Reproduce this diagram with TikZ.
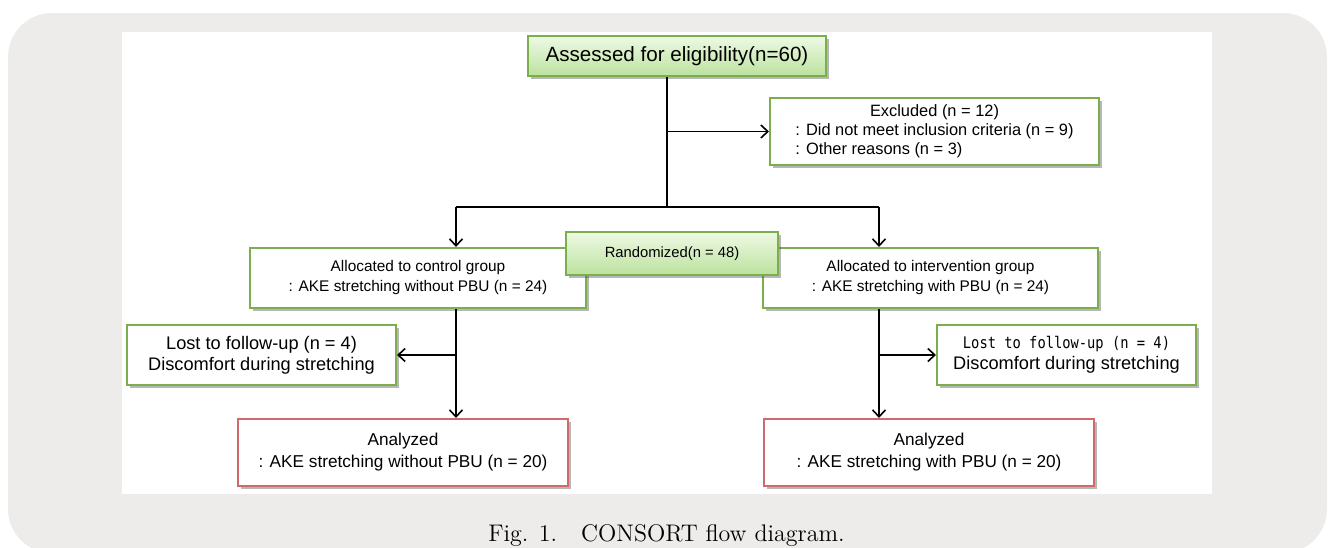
\documentclass[tikz,border=0pt]{standalone}
\usepackage{fontspec}
\newfontfamily\boxfont{Liberation Sans}
\newfontfamily\boxmono[FakeStretch=0.86]{DejaVu Sans Mono}
\usetikzlibrary{positioning,arrows.meta,shadows}

\definecolor{pagegray}{HTML}{EDECEA}
\definecolor{boxgreen}{HTML}{7AAF4C}
\definecolor{boxred}{HTML}{D06A6A}
\definecolor{greentop}{HTML}{EEF9E4}
\definecolor{greenbot}{HTML}{BCE29E}

\tikzset{
  flowbox/.style={draw=boxgreen, line width=1pt, fill=white, inner sep=0pt, align=center,
    drop shadow={shadow xshift=1.3pt, shadow yshift=-1.3pt, opacity=0.4, fill=black!70}},
  greenbox/.style={flowbox, top color=greentop, bottom color=greenbot},
  redbox/.style={flowbox, draw=boxred},
  flowline/.style={line width=0.8pt, black},
}

\begin{document}
\begin{tikzpicture}[x=0.5pt, y=-0.5pt, >={Straight Barb[length=3.5pt,width=6.5pt]}]
\useasboundingbox (0,0) rectangle (1329,547);
% page background
\fill[pagegray, rounded corners=22pt] (8,13) rectangle (1327,553);
\fill[white] (122,32) rectangle (1212,494);

% boxes
\node[greenbox, minimum width=149pt, minimum height=20pt,
  font=\boxfont\fontsize{10.3}{12}\selectfont] (assess) at (677,56) {Assessed for eligibility(n=60)};
\node[flowbox, minimum width=164.5pt, minimum height=33.5pt,
  font=\boxfont\fontsize{8.2}{9.5}\selectfont] (excluded) at (934.5,131.5)
  {\begin{tabular}{@{}l@{}}\multicolumn{1}{@{}c@{}}{Excluded (n = 12)}\\
   : Did not meet inclusion criteria (n = 9)\\
   : Other reasons (n = 3)\end{tabular}};
\node[flowbox, minimum width=168pt, minimum height=30pt,
  font=\boxfont\fontsize{7.7}{10}\selectfont] (ctrl) at (418,278)
  {Allocated to control group\\: AKE stretching without PBU (n = 24)};
\node[flowbox, minimum width=167.5pt, minimum height=30pt,
  font=\boxfont\fontsize{7.7}{10}\selectfont] (interv) at (930.5,278)
  {Allocated to intervention group\\: AKE stretching with PBU (n = 24)};
\node[greenbox, minimum width=106pt, minimum height=21.5pt,
  font=\boxfont\fontsize{7.4}{9}\selectfont] (random) at (672,253.5) {Randomized(n = 48)};
\node[flowbox, minimum width=134.5pt, minimum height=30pt,
  font=\boxfont\fontsize{9.1}{10.5}\selectfont] (lostctrl) at (261.5,355)
  {Lost to follow-up (n = 4)\\Discomfort during stretching};
\node[flowbox, minimum width=129.5pt, minimum height=30pt,
  font=\boxfont\fontsize{9.1}{10.5}\selectfont] (lostint) at (1066.5,355)
  {{\boxmono\fontsize{8}{10.5}\selectfont Lost to follow-up (n = 4)}\\Discomfort during stretching};
\node[redbox, minimum width=165pt, minimum height=33.5pt,
  font=\boxfont\fontsize{8.6}{11}\selectfont] (anlctrl) at (403,452.5)
  {Analyzed\\: AKE stretching without PBU (n = 20)};
\node[redbox, minimum width=165pt, minimum height=33.5pt,
  font=\boxfont\fontsize{8.6}{11}\selectfont] (anlint) at (929,452.5)
  {Analyzed\\: AKE stretching with PBU (n = 20)};

% connectors
\coordinate (trunk) at (667,207);
\coordinate (splitl) at (456,207);
\coordinate (splitr) at (879,207);
\draw[flowline] (trunk |- assess.south) -- (trunk);
\draw[flowline, ->] (trunk |- excluded.west) -- (excluded.west);
\draw[flowline] (splitl) -- (splitr);
\draw[flowline, ->] (splitl) -- (splitl |- ctrl.north);
\draw[flowline, ->] (splitr) -- (splitr |- interv.north);
\draw[flowline, ->] (splitl |- ctrl.south) -- (splitl |- anlctrl.north);
\draw[flowline, ->] (splitl |- lostctrl.east) -- (lostctrl.east);
\draw[flowline, ->] (splitr |- interv.south) -- (splitr |- anlint.north);
\draw[flowline, ->] (splitr |- lostint.west) -- (lostint.west);

% caption
\node[anchor=base, font=\fontsize{12}{14}\selectfont] (caption) at (666.5,541)
  {Fig. 1.\quad CONSORT flow diagram.};
\end{tikzpicture}
\end{document}
